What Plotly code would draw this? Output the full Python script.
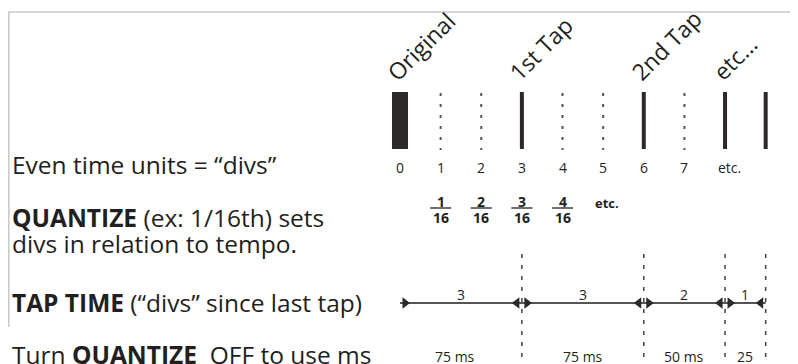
import plotly.graph_objects as go

# grid of "divs"
divs = [0, 1, 2, 3, 4, 5, 6, 7]
div_labels = ["0", "1", "2", "3", "4", "5", "6", "7"]
etc_div = 8

# taps (solid bars) and headers
tap_divs = [0, 3, 6, 8, 9]
tap_headers = ["Original", "1st Tap", "2nd Tap", "etc..."]

# quantize fractions
frac_divs = [1, 2, 3, 4]
frac_num = ["1", "2", "3", "4"]
frac_den = ["16", "16", "16", "16"]

# tap time segments
tap_times = [3, 3, 2, 1]
tap_ms = ["75 ms", "75 ms", "50 ms", "25"]

left_text = [
    ("Even time units = \u201cdivs\u201d", 164),
    ("<b>QUANTIZE</b> (ex: 1/16th) sets", 217),
    ("divs in relation to tempo.", 243),
    ("<b>TAP TIME</b> (\u201cdivs\u201d since last tap)", 302),
    ("Turn <b>QUANTIZE</b>&nbsp; OFF to use ms", 354),
]

FONT = "'Open Sans', sans-serif"
INK = "#231f20"
BAR = "#2d2829"
PAGE_W, PAGE_H = 798, 364
OFS = 8  # page body margin
W, H = PAGE_W - OFS, PAGE_H - OFS
PX = 40.63  # pixels per div
X0 = 400    # page pixel of div 0

fig = go.Figure()

# original bar (thick)
fig.add_trace(go.Scatter(x=[tap_divs[0], tap_divs[0]], y=[92, 149], mode="lines",
                         line=dict(color=BAR, width=16), hoverinfo="skip"))

# tap bars
xs, ys = [], []
for d in tap_divs[1:]:
    xs += [d, d, None]
    ys += [92, 149, None]
fig.add_trace(go.Scatter(x=xs, y=ys, mode="lines", line=dict(color=BAR, width=4), hoverinfo="skip"))

# dotted div lines
xs, ys = [], []
for d in divs:
    if d not in tap_divs:
        xs += [d, d, None]
        ys += [93, 150, None]
fig.add_trace(go.Scatter(x=xs, y=ys, mode="lines",
                         line=dict(color="#555", width=2, dash="3px,8px"), hoverinfo="skip"))

# dashed guide lines for bottom section
xs, ys = [], []
for d in tap_divs[1:]:
    xs += [d, d, None]
    ys += [254, 364, None]
fig.add_trace(go.Scatter(x=xs, y=ys, mode="lines",
                         line=dict(color="#444", width=1.5, dash="4px,7px"), hoverinfo="skip"))

# tap time line
fig.add_trace(go.Scatter(x=[tap_divs[0], tap_divs[-1]], y=[303, 303], mode="lines",
                         line=dict(color="#555", width=2), hoverinfo="skip"))
off = 5 / PX
fig.add_trace(go.Scatter(x=[d + off for d in tap_divs[:-1]], y=[303] * (len(tap_divs) - 1),
                         mode="markers", marker=dict(symbol="triangle-right", size=10, color=BAR),
                         hoverinfo="skip"))
fig.add_trace(go.Scatter(x=[d - off for d in tap_divs[1:]], y=[303] * (len(tap_divs) - 1),
                         mode="markers", marker=dict(symbol="triangle-left", size=10, color=BAR),
                         hoverinfo="skip"))

# fraction bars
xs, ys = [], []
for d in frac_divs:
    xs += [d - 0.26, d + 0.26, None]
    ys += [208, 208, None]
fig.add_trace(go.Scatter(x=xs, y=ys, mode="lines", line=dict(color=INK, width=1.3), hoverinfo="skip"))

ann = []
for d, lab in zip(divs, div_labels):
    ann.append(dict(x=d, y=167, text=lab, font=dict(size=14)))
ann.append(dict(x=etc_div + 0.12, y=167, text="etc.", font=dict(size=14)))

for d, h in zip(tap_divs, tap_headers):
    ann.append(dict(x=d - 0.55, y=90, text=h, textangle=-45, xanchor="left", yanchor="bottom",
                    font=dict(size=23)))

for d, n, m in zip(frac_divs, frac_num, frac_den):
    ann.append(dict(x=d, y=201, text="<b>%s</b>" % n, font=dict(size=14)))
    ann.append(dict(x=d, y=217, text="<b>%s</b>" % m, font=dict(size=14)))
ann.append(dict(x=frac_divs[-1] + 1.1, y=203, text="<b>etc.</b>", font=dict(size=13)))

for i, (t, ms) in enumerate(zip(tap_times, tap_ms)):
    mid = (tap_divs[i] + tap_divs[i + 1]) / 2
    ann.append(dict(x=mid, y=294, text=str(t), font=dict(size=14)))
    ann.append(dict(x=mid - (0.15 if i == 0 else 0), y=356, text=ms, font=dict(size=14)))

for txt, y in left_text:
    ann.append(dict(x=(10 - OFS) / W, xref="paper", y=y, text=txt, xanchor="left",
                    font=dict(size=24.5)))

for a in ann:
    a.setdefault("xref", "x")
    a.setdefault("yref", "y")
    a.setdefault("xanchor", "center")
    a.setdefault("yanchor", "middle")
    a["showarrow"] = False

fig.update_layout(
    width=W, height=H,
    margin=dict(l=0, r=0, t=0, b=0),
    paper_bgcolor="white", plot_bgcolor="white",
    showlegend=False,
    font=dict(family=FONT, color=INK),
    xaxis=dict(range=[(OFS - X0) / PX, (PAGE_W - X0) / PX], visible=False, fixedrange=True),
    yaxis=dict(range=[PAGE_H, OFS], visible=False, fixedrange=True),
    annotations=ann,
    shapes=[
        dict(type="line", xref="paper", yref="y", x0=0, x1=1, y0=12, y1=12,
             line=dict(color="#c8c8c8", width=1.5)),
        dict(type="line", xref="paper", yref="y", x0=0.001, x1=0.001, y0=12, y1=327,
             line=dict(color="#c8c8c8", width=1.5)),
    ],
)

fig.write_html("out.html")
